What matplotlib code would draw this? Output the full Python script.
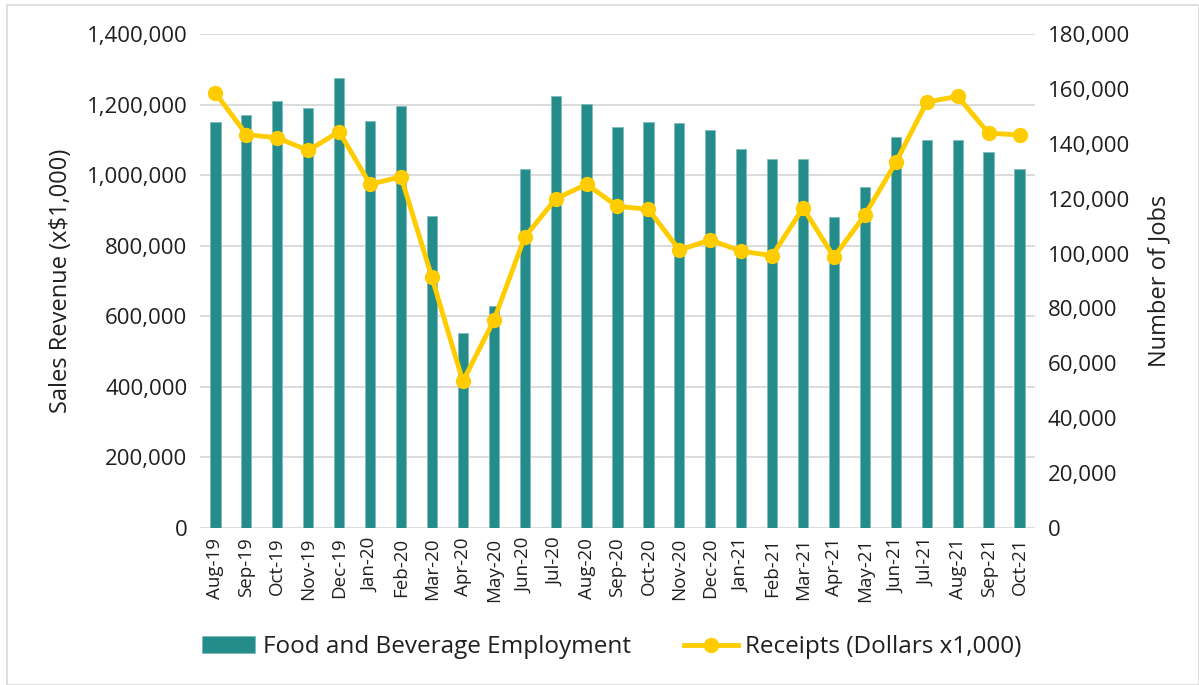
import matplotlib
matplotlib.use("Agg")
import matplotlib.pyplot as plt
from matplotlib.patches import Rectangle
from matplotlib.ticker import FuncFormatter
import numpy as np

plt.rcParams['font.family'] = ['Open Sans', 'DejaVu Sans']

months = ['Aug-19', 'Sep-19', 'Oct-19', 'Nov-19', 'Dec-19', 'Jan-20', 'Feb-20',
          'Mar-20', 'Apr-20', 'May-20', 'Jun-20', 'Jul-20', 'Aug-20', 'Sep-20',
          'Oct-20', 'Nov-20', 'Dec-20', 'Jan-21', 'Feb-21', 'Mar-21', 'Apr-21',
          'May-21', 'Jun-21', 'Jul-21', 'Aug-21', 'Sep-21', 'Oct-21']

# food and beverage employment (number of jobs, right axis)
jobs = [147900, 150300, 155550, 152960, 163900, 148260, 153870,
        113650, 71090, 80850, 130960, 157370, 154530, 145930,
        147900, 147500, 145160, 138000, 134490, 134490, 113390,
        124330, 142290, 141230, 141230, 136820, 130850]

# receipts in dollars x1,000 (left axis)
receipts = [1233000, 1115000, 1105600, 1070000, 1123000, 974000, 995300,
            710000, 415500, 588300, 824400, 932700, 974000, 911400,
            903200, 787900, 816200, 784700, 771700, 907200, 767700,
            887000, 1035800, 1207000, 1223200, 1118900, 1113800]

sales_ticks = np.arange(0, 1400001, 200000)
jobs_ticks = np.arange(0, 180001, 20000)

teal = '#248c8a'
gold = '#ffcc00'
grid_col = '#d9d9d9'
text_col = '#1f1f1f'

fig = plt.figure(figsize=(11.99, 6.85), dpi=100)
fig.patches.append(Rectangle((0.006, 0.0), 0.994, 0.993, transform=fig.transFigure,
                             fill=False, edgecolor='#d9d9d9', linewidth=1.2))

ax_jobs = fig.add_axes([0.1668, 0.2292, 0.6964, 0.7212])
ax_sales = ax_jobs.twinx()

x = np.arange(len(months))

# bars on the jobs axis
ax_jobs.bar(x, jobs, width=0.33, color=teal, edgecolor='#7fbcb9', linewidth=0.6,
            zorder=3, label='Food and Beverage Employment')
ax_jobs.set_ylim(0, 180000)
ax_jobs.set_xlim(-0.5, len(months) - 0.5)

# gridlines follow the sales axis ticks
for t in sales_ticks:
    ax_jobs.axhline(t * 180000 / 1400000, color=grid_col, linewidth=1.3, zorder=1)

ax_jobs.yaxis.tick_right()
ax_jobs.yaxis.set_label_position('right')
ax_jobs.set_yticks(jobs_ticks)
ax_jobs.yaxis.set_major_formatter(FuncFormatter(lambda v, p: f'{int(v):,}'))
ax_jobs.set_ylabel('Number of Jobs', fontsize=17, color=text_col, rotation=90)
ax_jobs.yaxis.set_label_coords(1.135, 0.5)

ax_jobs.set_xticks(x)
ax_jobs.set_xticklabels(months, rotation=90)

# line on the sales axis
ax_sales.plot(x, receipts, color=gold, linewidth=3.5, marker='o', markersize=10,
              zorder=4, label='Receipts (Dollars x1,000)')
ax_sales.set_ylim(0, 1400000)
ax_sales.yaxis.tick_left()
ax_sales.yaxis.set_label_position('left')
ax_sales.set_yticks(sales_ticks)
ax_sales.yaxis.set_major_formatter(FuncFormatter(lambda v, p: f'{int(v):,}'))
ax_sales.set_ylabel(r'Sales Revenue (x\$1,000)', fontsize=17, color=text_col)
ax_sales.yaxis.set_label_coords(-0.152, 0.5)

for a in (ax_jobs, ax_sales):
    for s in a.spines.values():
        s.set_visible(False)
    a.tick_params(axis='both', length=0, labelsize=16, colors=text_col, pad=9)
ax_jobs.tick_params(axis='x', labelsize=13.5, pad=7)
ax_sales.tick_params(axis='x', length=0)

h1, l1 = ax_jobs.get_legend_handles_labels()
h2, l2 = ax_sales.get_legend_handles_labels()
fig.legend(h1 + h2, l1 + l2, loc='center', bbox_to_anchor=(0.51, 0.055), ncol=2,
           frameon=False, fontsize=17.5, handlelength=2.2, columnspacing=2.2,
           handletextpad=0.3, labelcolor=text_col)

fig.savefig('out.png', dpi=100)
